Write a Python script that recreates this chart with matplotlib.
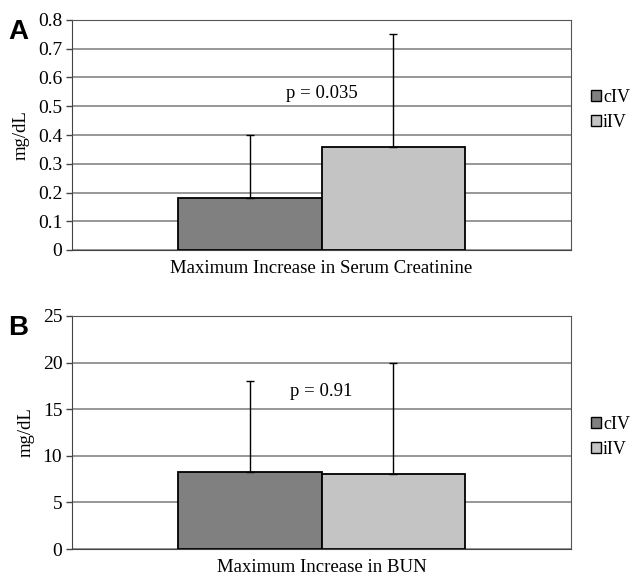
import matplotlib.pyplot as plt
import numpy as np

groups = ["cIV", "iIV"]
colors = ["#808080", "#c4c4c4"]

# panel A: serum creatinine
creat_mean = [0.18, 0.36]
creat_err = [0.22, 0.39]
# panel B: BUN
bun_mean = [8.3, 8.0]
bun_err = [9.7, 12.0]

plt.rcParams['font.family'] = ['Liberation Serif', 'DejaVu Serif']

fig = plt.figure(figsize=(6.34, 5.78), dpi=100)
W, H = 634, 578


def panel(rect, means, errs, ylim, yticks, yticklabels, xlabel, ptext, py, legy, letter):
    l, t, r, b = rect
    ax = fig.add_axes([l / W, 1 - b / H, (r - l) / W, (b - t) / H])
    width = 0.287
    xs = [0.5 - width / 2, 0.5 + width / 2]
    for i in range(2):
        ax.bar(xs[i], means[i], width, color=colors[i], edgecolor="black",
               linewidth=1.3, zorder=3, label=groups[i])
        ax.errorbar(xs[i], means[i], yerr=[[0], [errs[i]]], fmt="none",
                    ecolor="black", elinewidth=1.0, capsize=3, capthick=1.0, zorder=4)
    ax.set_xlim(0, 1)
    ax.set_ylim(*ylim)
    ax.set_yticks(yticks)
    ax.set_yticklabels(yticklabels, fontsize=14)
    ax.set_xticks([])
    ax.yaxis.grid(True, color="#7a7a7a", linewidth=1.1, zorder=0)
    for s in ["top", "right"]:
        ax.spines[s].set_color("#555555")
    ax.spines["left"].set_color("#444444")
    ax.spines["bottom"].set_color("#444444")
    ax.tick_params(axis="y", length=4, width=1, color="#444444", pad=3)
    ax.set_xlabel(xlabel, fontsize=13.5, labelpad=7)
    ax.set_ylabel("mg/dL", fontsize=13.5, labelpad=6)
    ax.text(0.5, py, ptext, ha="center", va="center", fontsize=13.5, zorder=5)
    leg = ax.legend(loc="center left", bbox_to_anchor=(1.04, legy), frameon=False,
                    fontsize=13, handlelength=0.55, handleheight=0.55,
                    handletextpad=0.12, labelspacing=0.45, borderaxespad=0,
                    borderpad=0)
    for h in leg.legend_handles:
        h.set_linewidth(1.0)
    fig.text(8 / W, 1 - (t + 12) / H, letter, fontsize=20, fontweight="bold",
             family="Liberation Sans", va="center", ha="left")
    return ax


panel((72, 20, 571, 250), creat_mean, creat_err, (0, 0.8),
      np.arange(0, 0.81, 0.1), ["0", "0.1", "0.2", "0.3", "0.4", "0.5", "0.6", "0.7", "0.8"],
      "Maximum Increase in Serum Creatinine", "p = 0.035", 0.546, 0.61, "A")
panel((72, 316, 571, 549), bun_mean, bun_err, (0, 25),
      [0, 5, 10, 15, 20, 25], ["0", "5", "10", "15", "20", "25"],
      "Maximum Increase in BUN", "p = 0.91", 16.95, 0.48, "B")

fig.savefig("out.png", dpi=100)
